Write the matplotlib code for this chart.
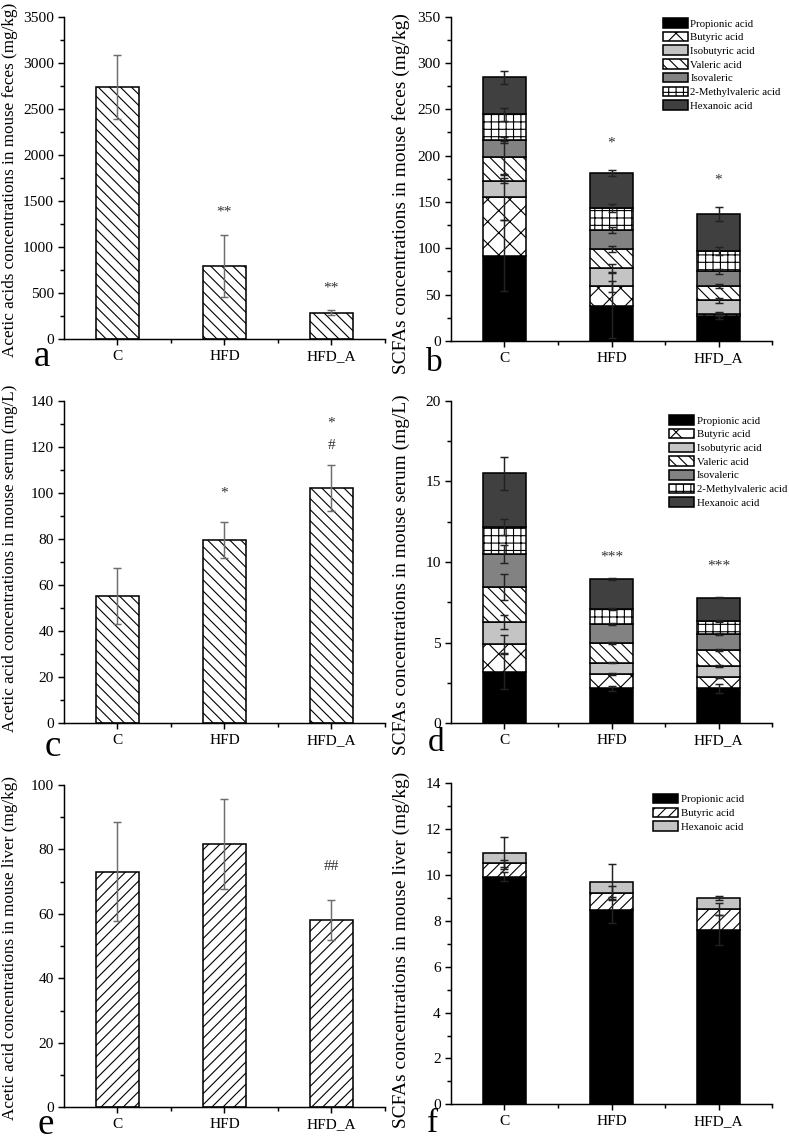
import matplotlib
matplotlib.use("Agg")
import matplotlib.pyplot as plt
from matplotlib.ticker import MultipleLocator, FixedLocator
import numpy as np

plt.rcParams['font.family'] = ['Liberation Serif', 'DejaVu Serif']
plt.rcParams['hatch.linewidth'] = 0.6

# ---------------- data ----------------
groups = ['C', 'HFD', 'HFD_A']

acetic_feces = [2745, 800, 289]
acetic_feces_sd = [348, 335, 25]
acetic_feces_sig = ['', '**', '**']
acetic_feces_sig_y = [0, 1380, 560]

acetic_serum = [55.2, 79.6, 102.0]
acetic_serum_sd = [12.2, 7.8, 10.0]

acetic_liver = [73.1, 81.7, 58.1]
acetic_liver_sd = [15.3, 13.9, 6.3]

scfa_names = ['Propionic acid', 'Butyric acid', 'Isobutyric acid', 'Valeric acid',
              'Isovaleric', '2-Methylvaleric acid', 'Hexanoic acid']

feces_propionic = [92, 38, 27]
feces_butyric = [63, 21, 2]
feces_isobutyric = [18, 19.5, 15]
feces_valeric = [25, 21, 15]
feces_isovaleric = [19, 20.5, 16]
feces_methylvaleric = [27.5, 23.5, 22]
feces_hexanoic = [40, 38, 40]
feces_sd_propionic = [38, 35, 3]
feces_sd_butyric = [24, 6, 2]
feces_sd_isobutyric = [3, 4.5, 2.5]
feces_sd_valeric = [18, 3, 2]
feces_sd_isovaleric = [3.4, 3, 3]
feces_sd_methylvaleric = [7, 4, 4]
feces_sd_hexanoic = [7, 3, 8]

serum_propionic = [3.2, 2.17, 2.17]
serum_butyric = [1.7, 0.87, 0.68]
serum_isobutyric = [1.36, 0.72, 0.72]
serum_valeric = [2.21, 1.2, 0.97]
serum_isovaleric = [2.03, 1.2, 1.0]
serum_methylvaleric = [1.65, 0.91, 0.8]
serum_hexanoic = [3.35, 1.86, 1.45]
serum_sd_propionic = [1.1, 0.15, 0.27]
serum_sd_butyric = [0.57, 0.05, 0.05]
serum_sd_isobutyric = [0.43, 0.05, 0.05]
serum_sd_valeric = [0.8, 0.05, 0.05]
serum_sd_isovaleric = [0.55, 0.05, 0.05]
serum_sd_methylvaleric = [0.5, 0.05, 0.05]
serum_sd_hexanoic = [1.03, 0.05, 0.05]

liver_names = ['Propionic acid', 'Butyric acid', 'Hexanoic acid']
liver_propionic = [9.93, 8.47, 7.59]
liver_butyric = [0.58, 0.76, 0.91]
liver_hexanoic = [0.44, 0.48, 0.51]
liver_sd_propionic = [0.2, 0.58, 0.65]
liver_sd_butyric = [0.15, 0.3, 0.26]
liver_sd_hexanoic = [0.7, 0.77, 0.09]

# ---------------- figure ----------------
DPI = 133
W, H = 790, 1142
fig = plt.figure(figsize=(W / DPI, H / DPI), dpi=DPI)


def make_ax(x0, x1, y0, y1):
    return fig.add_axes([x0 / W, 1 - y1 / H, (x1 - x0) / W, (y1 - y0) / H])


TICK_FS = 8.3
LAB_FS_L = 9.3
LAB_FS_R = 10.5
LEG_FS = 5.8
EDGE_LW = 0.85
ERR_GRAY = '#6e6e6e'
ERR_DARK = '#222222'
x = np.arange(len(groups))
BAR_W = 0.4
BS4 = '\\' * 4


def style_ax(ax, ymax, major, minor, ylabel, labx, laby, labfs):
    ax.set_xlim(-0.5, 2.5)
    ax.set_ylim(0, ymax)
    for s in ['top', 'right']:
        ax.spines[s].set_visible(False)
    for s in ['left', 'bottom']:
        ax.spines[s].set_linewidth(0.8)
    ax.set_xticks(x)
    ax.set_xticklabels(groups, fontsize=TICK_FS)
    ax.xaxis.set_minor_locator(FixedLocator([0.5, 1.5, 2.5]))
    ax.yaxis.set_major_locator(MultipleLocator(major))
    ax.yaxis.set_minor_locator(MultipleLocator(minor))
    ax.tick_params(axis='both', which='major', direction='out', length=3.5, width=0.8,
                   labelsize=TICK_FS, pad=2)
    ax.tick_params(axis='both', which='minor', direction='out', length=2, width=0.8)
    ax.tick_params(axis='x', which='major', pad=2.5)
    ax.set_ylabel(ylabel, fontsize=labfs)
    ax.yaxis.set_label_coords(labx, laby)
    ax.set_axisbelow(False)


def simple_panel(ax, vals, sds, hatch):
    ax.bar(x, vals, width=BAR_W, color='white', edgecolor='black', linewidth=EDGE_LW,
           hatch=hatch, zorder=2)
    ax.errorbar(x, vals, yerr=sds, fmt='none', ecolor=ERR_GRAY, elinewidth=0.8,
                capsize=2.4, capthick=0.8, zorder=3)


def stacked_panel(ax, series, sds, styles, names, leg_xy):
    bottom = np.zeros(len(groups))
    handles = []
    for vals, sd, (fc, hatch), name in zip(series, sds, styles, names):
        vals = np.asarray(vals, dtype=float)
        b = ax.bar(x, vals, width=BAR_W, bottom=bottom, color=fc, edgecolor='black',
                   linewidth=EDGE_LW, hatch=hatch, zorder=2, label=name)
        handles.append(b)
        top = bottom + vals
        ax.errorbar(x, top, yerr=sd, fmt='none', ecolor=ERR_DARK, elinewidth=0.8,
                    capsize=2.4, capthick=0.8, zorder=4)
        bottom = top
    ax.legend(handles=handles, loc='upper left', bbox_to_anchor=leg_xy, frameon=False,
              fontsize=LEG_FS, handlelength=2.3, handleheight=1.0, labelspacing=0.3,
              handletextpad=0.25, borderpad=0, borderaxespad=0)


# ---- panel a ----
ax_a = make_ax(64, 385, 17.3, 339.3)
simple_panel(ax_a, acetic_feces, acetic_feces_sd, BS4)
style_ax(ax_a, 3500, 500, 250, 'Acetic acids concentrations in mouse feces (mg/kg)',
         -0.143, 0.495, LAB_FS_L)
for xi, s, yv in zip(x, acetic_feces_sig, acetic_feces_sig_y):
    if s:
        ax_a.text(xi, yv, s, ha='center', va='center', fontsize=TICK_FS, color='#333333')

# ---- panel b ----
styles7 = [('black', ''), ('white', 'xx'), ('#c4c4c4', ''), ('white', BS4),
           ('#828282', ''), ('white', '+++'), ('#404040', '')]
ax_b = make_ax(451, 772, 16.5, 341)
stacked_panel(ax_b,
              [feces_propionic, feces_butyric, feces_isobutyric, feces_valeric,
               feces_isovaleric, feces_methylvaleric, feces_hexanoic],
              [feces_sd_propionic, feces_sd_butyric, feces_sd_isobutyric, feces_sd_valeric,
               feces_sd_isovaleric, feces_sd_methylvaleric, feces_sd_hexanoic],
              styles7, scfa_names, (0.66, 0.995))
style_ax(ax_b, 350, 50, 25, 'SCFAs concentrations in mouse feces (mg/kg)',
         -0.128, 0.455, LAB_FS_R)
ax_b.text(1, 214, '*', ha='center', va='center', fontsize=TICK_FS, color='#333333')
ax_b.text(2, 174, '*', ha='center', va='center', fontsize=TICK_FS, color='#333333')

# ---- panel c ----
ax_c = make_ax(64, 385, 400.7, 723.3)
simple_panel(ax_c, acetic_serum, acetic_serum_sd, BS4)
style_ax(ax_c, 140, 20, 10, 'Acetic acid concentrations in mouse serum (mg/L)',
         -0.143, 0.51, LAB_FS_L)
ax_c.text(1, 99.8, '*', ha='center', va='center', fontsize=TICK_FS, color='#333333')
ax_c.text(2, 130.2, '*', ha='center', va='center', fontsize=TICK_FS, color='#333333')
ax_c.text(2, 120.4, '#', ha='center', va='center', fontsize=TICK_FS, color='#333333')

# ---- panel d ----
ax_d = make_ax(451, 772, 400.7, 723.3)
stacked_panel(ax_d,
              [serum_propionic, serum_butyric, serum_isobutyric, serum_valeric,
               serum_isovaleric, serum_methylvaleric, serum_hexanoic],
              [serum_sd_propionic, serum_sd_butyric, serum_sd_isobutyric, serum_sd_valeric,
               serum_sd_isovaleric, serum_sd_methylvaleric, serum_sd_hexanoic],
              styles7, scfa_names, (0.68, 0.955))
style_ax(ax_d, 20, 5, 2.5, 'SCFAs concentrations in mouse serum (mg/L)',
         -0.128, 0.46, LAB_FS_R)
ax_d.text(1, 10.3, '***', ha='center', va='center', fontsize=TICK_FS, color='#333333')
ax_d.text(2, 9.77, '***', ha='center', va='center', fontsize=TICK_FS, color='#333333')

# ---- panel e ----
ax_e = make_ax(64, 385, 785, 1107.3)
simple_panel(ax_e, acetic_liver, acetic_liver_sd, '////')
style_ax(ax_e, 100, 20, 10, 'Acetic acid concentrations in mouse liver (mg/kg)',
         -0.143, 0.494, LAB_FS_L)
ax_e.text(2, 74.7, '##', ha='center', va='center', fontsize=TICK_FS, color='#333333')

# ---- panel f ----
styles3 = [('black', ''), ('white', '////'), ('#c4c4c4', '')]
ax_f = make_ax(451, 772, 783.3, 1104.3)
stacked_panel(ax_f, [liver_propionic, liver_butyric, liver_hexanoic],
              [liver_sd_propionic, liver_sd_butyric, liver_sd_hexanoic],
              styles3, liver_names, (0.63, 0.967))
style_ax(ax_f, 14, 2, 1, 'SCFAs concentrations in mouse liver (mg/kg)',
         -0.128, 0.48, LAB_FS_R)

# ---- panel letters (baseline positions) ----
for lt, px, py, fs in [('a', 42, 366, 20), ('b', 434, 371, 18), ('c', 53, 756, 20),
                       ('d', 436, 751, 18), ('e', 46, 1134, 20), ('f', 433, 1132, 18)]:
    fig.text(px / W, 1 - py / H, lt, fontsize=fs, ha='center', va='baseline')

fig.savefig('out.png', dpi=DPI)
